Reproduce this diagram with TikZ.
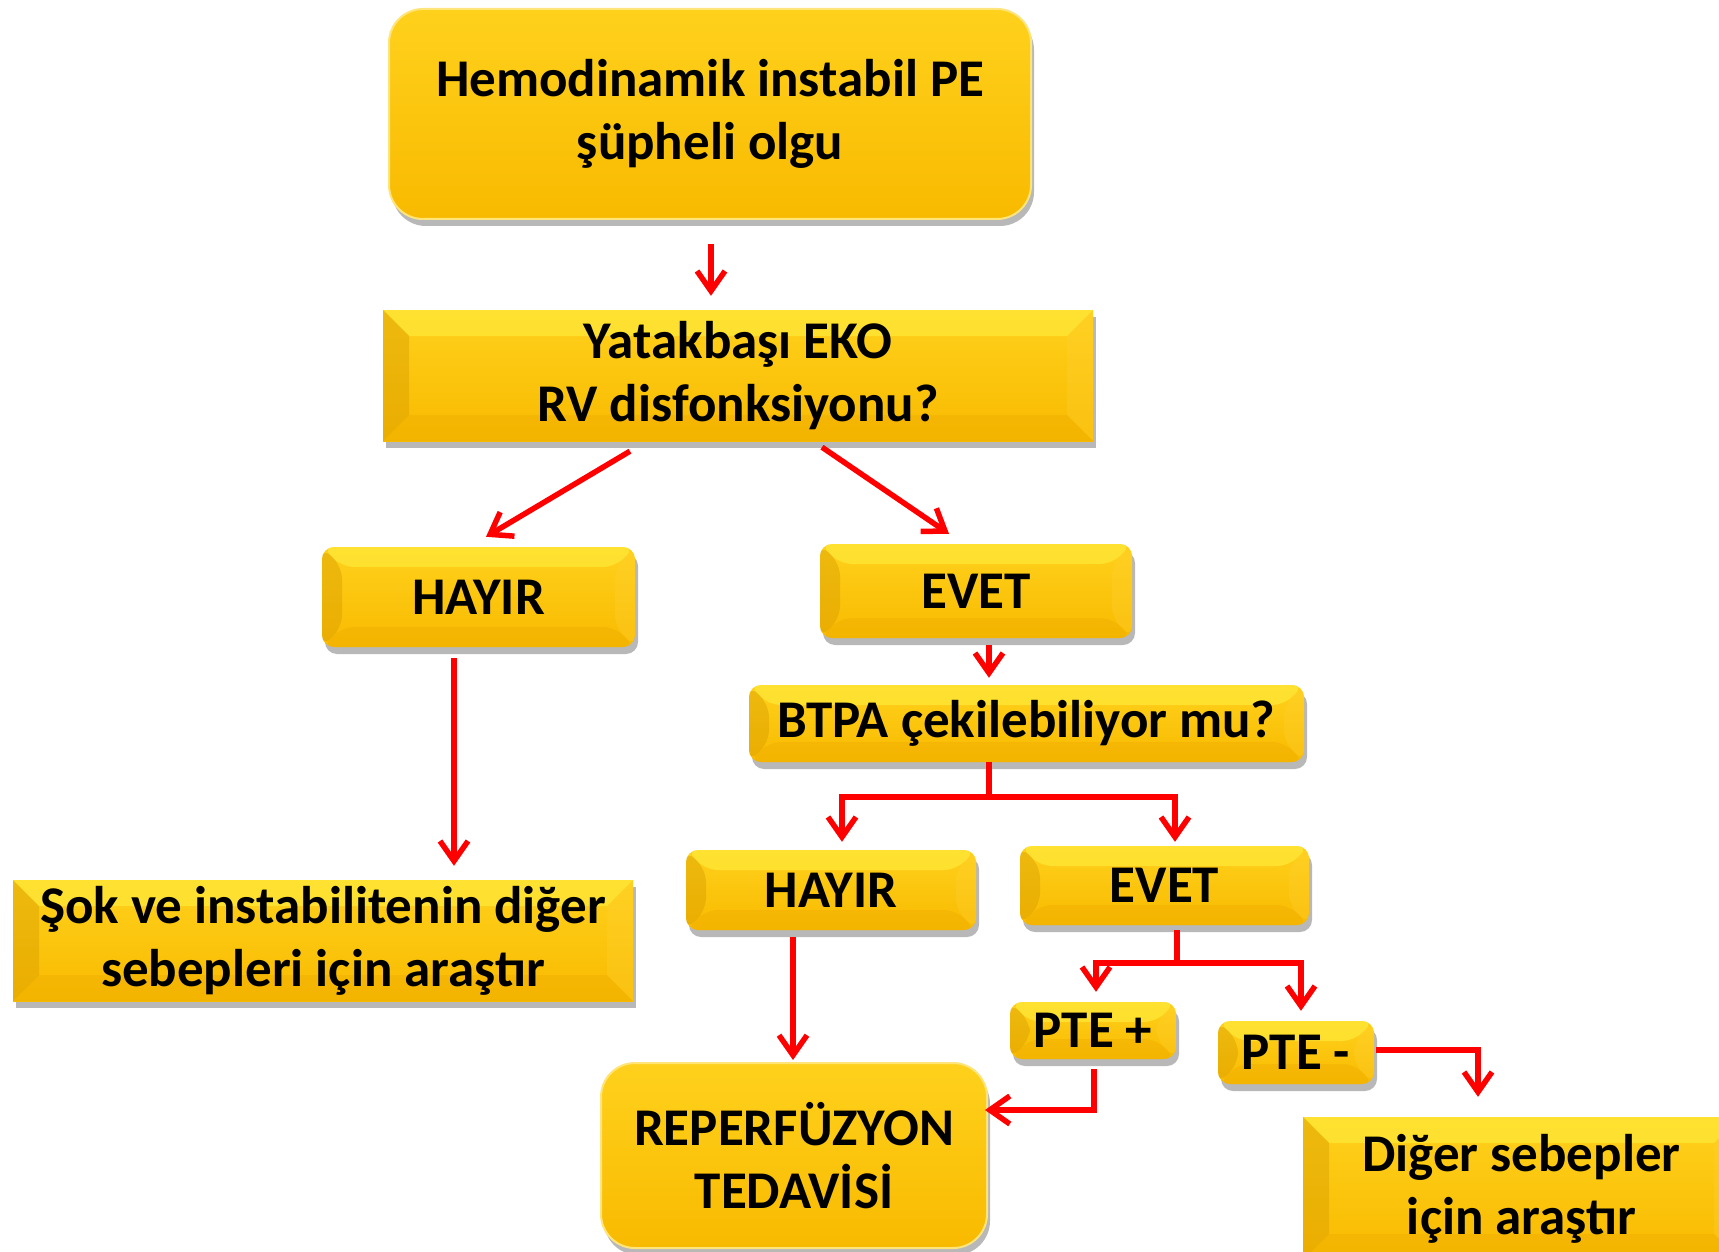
\documentclass[tikz,border=0pt]{standalone}
\usepackage{fontspec}
\setmainfont{Carlito}
\usetikzlibrary{arrows.meta,calc,shadows}
\definecolor{gold}{HTML}{F8BA00}
\definecolor{goldtop}{HTML}{FFD11C}
\definecolor{bevtop}{HTML}{FFEE40}
\definecolor{bevleft}{HTML}{D99E00}
\definecolor{bevright}{HTML}{FFD030}
\definecolor{bevbot}{HTML}{EFAE00}
\definecolor{glow}{HTML}{FFE47A}
\definecolor{arrowred}{HTML}{FF0000}
\tikzset{
  box/.style={inner sep=0pt, align=center,
    font=\bfseries\fontsize{53}{63}\selectfont,
    top color=goldtop, bottom color=gold,
    drop shadow={shadow xshift=3pt, shadow yshift=-7pt, opacity=0.28, fill=black}},
  softbox/.style={box, rounded corners=34pt, draw=glow, line width=2pt},
  bevel/.style={path picture={
    \path (path picture bounding box.north west) coordinate (pNW)
          (path picture bounding box.north east) coordinate (pNE)
          (path picture bounding box.south west) coordinate (pSW)
          (path picture bounding box.south east) coordinate (pSE);
    \fill[bevtop, opacity=0.6] (pNW) -- (pNE) -- ([xshift=-#1,yshift=-#1]pNE) -- ([xshift=#1,yshift=-#1]pNW) -- cycle;
    \fill[bevleft, opacity=0.45] (pNW) -- ([xshift=#1,yshift=-#1]pNW) -- ([xshift=#1,yshift=#1]pSW) -- (pSW) -- cycle;
    \fill[bevright, opacity=0.35] (pNE) -- ([xshift=-#1,yshift=-#1]pNE) -- ([xshift=-#1,yshift=#1]pSE) -- (pSE) -- cycle;
    \fill[bevbot, opacity=0.45] (pSW) -- ([xshift=#1,yshift=#1]pSW) -- ([xshift=-#1,yshift=#1]pSE) -- (pSE) -- cycle;
  }},
  bevbox/.style={box, bevel=26pt},
  btnbox/.style={box, rounded corners=12pt, bevel=20pt},
  arr/.style={draw=arrowred, line width=5.5pt,
    -{Straight Barb[length=20pt,width=28pt]}}
}
\begin{document}
\begin{tikzpicture}[x=1pt, y=-1pt]
\useasboundingbox (0,0) rectangle (1719,1252);
\fill[white] (0,0) rectangle (1719,1252);

\node[softbox, minimum width=642pt, minimum height=210pt] (top) at (710,114)
  {Hemodinamik instabil PE\\şüpheli olgu};
\node[bevbox, minimum width=710pt, minimum height=131pt] (eko) at (738,375.5)
  {Yatakbaşı EKO\\RV disfonksiyonu?};
\node[btnbox, minimum width=313pt, minimum height=100pt] (hayir1) at (478.5,597) {HAYIR};
\node[btnbox, minimum width=312pt, minimum height=94pt] (evet1) at (976,591) {EVET};
\node[btnbox, minimum width=555pt, minimum height=77pt] (btpa) at (1026.5,723.5) {BTPA çekilebiliyor mu?};
\node[btnbox, minimum width=290pt, minimum height=80pt] (hayir2) at (831,890) {HAYIR};
\node[btnbox, minimum width=289pt, minimum height=79pt] (evet2) at (1164.5,885.5) {EVET};
\node[bevbox, minimum width=620pt, minimum height=121pt] (sok) at (323,940.5)
  {Şok ve instabilitenin diğer\\sebepleri için araştır};
\node[softbox, minimum width=386pt, minimum height=185pt] (reper) at (794,1155.5)
  {REPERFÜZYON\\TEDAVİSİ};
\node[btnbox, minimum width=166pt, minimum height=57pt] (pteplus) at (1093,1030.5) {PTE +};
\node[btnbox, minimum width=156pt, minimum height=63pt] (pteminus) at (1296,1052.5) {PTE -};
\node[bevbox, minimum width=437pt, minimum height=143pt] (diger) at (1521.5,1188.5)
  {Diğer sebepler\\için araştır};

% connectors
\draw[arr] ($(top.south)+(1,24)$) -- ($(eko.north)+(-27,-14)$);
\draw[arr] ($(eko.south)+(-108,10)$) -- ($(hayir1.north)+(7.5,-10)$);
\draw[arr] ($(eko.south)+(84,6)$) -- ($(evet1.north)+(-27,-10)$);
\draw[arr] ($(evet1.south)+(13,7)$) -- ($(btpa.north)+(-37.5,-7)$);
\draw[arr] ($(btpa.south)+(-37.5,0)$) -- ++(0,35) -| ($(hayir2.north)+(11,-8)$);
\draw[arr] ($(btpa.south)+(-37.5,0)$) -- ++(0,35) -| ($(evet2.north)+(10.5,-4)$);
\draw[arr] ($(hayir1.south)+(-24.5,11)$) -- ($(sok.north)+(131,-14)$);
\draw[arr] ($(hayir2.south)+(-38,7)$) -- ($(reper.north)+(-1,-2)$);
\draw[arr] ($(evet2.south)+(12.5,5)$) -- ++(0,33) -| ($(pteplus.north)+(3,-10)$);
\draw[arr] ($(evet2.south)+(12.5,5)$) -- ++(0,33) -| ($(pteminus.north)+(5,-10)$);
\draw[arr] ($(pteplus.south)+(1,10)$) |- ($(reper.east)+(-3,-45.5)$);
\draw[arr] ($(pteminus.east)+(2,-2.5)$) -| ($(diger.north)+(-43.5,-20)$);
\end{tikzpicture}
\end{document}
